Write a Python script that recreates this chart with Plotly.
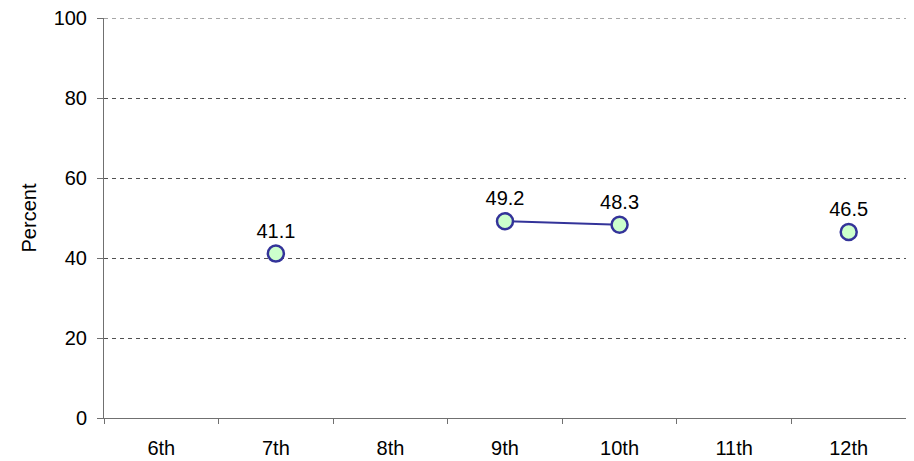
import plotly.graph_objs as go

grades = ['6th', '7th', '8th', '9th', '10th', '11th', '12th']
percent = [None, 41.1, None, 49.2, 48.3, None, 46.5]
labels = ['' if v is None else f'{v:.1f}' for v in percent]

grid_color = '#505050'
axis_color = '#707070'

fig = go.Figure(data=[go.Scatter(
    x=grades,
    y=percent,
    mode='lines+markers+text',
    line=dict(color='#333399', width=2),
    marker=dict(size=16, color='#ccffcc', line=dict(color='#333399', width=2.5)),
    text=labels,
    textposition='top center',
    textfont=dict(family='Liberation Sans, Arial', size=20, color='black'),
    connectgaps=False,
    cliponaxis=False,
)])

# page is offset by the 8px body margin, so the figure is shrunk to fit
fig.update_layout(
    width=906,
    height=453,
    showlegend=False,
    plot_bgcolor='white',
    paper_bgcolor='white',
    font=dict(family='Liberation Sans, Arial', size=20, color='black'),
    margin=dict(l=96, r=8, t=10, b=43, autoexpand=False),
)

fig.update_xaxes(
    type='category',
    tickson='boundaries',
    ticks='outside',
    ticklen=5,
    tickcolor=axis_color,
    showline=True,
    linecolor=axis_color,
    linewidth=1,
    showgrid=False,
    range=[-0.5, 6.5],
    ticklabelstandoff=12,
)

fig.update_yaxes(
    title_text='Percent',
    title_font=dict(size=20),
    title_standoff=11,
    range=[0, 100],
    dtick=20,
    ticks='outside',
    ticklen=6,
    tickcolor=axis_color,
    showline=True,
    linecolor=axis_color,
    linewidth=1,
    showgrid=True,
    gridcolor=grid_color,
    griddash='4px,4px',
    gridwidth=1,
    zeroline=False,
    ticklabelstandoff=6,
    ticklabeloverflow='allow',
)

# top gridline at 100 (plotly drops the gridline on the range edge)
fig.add_hline(y=100, line=dict(color=grid_color, width=1, dash='4px,4px'), layer='below')

fig.write_html('out.html')
